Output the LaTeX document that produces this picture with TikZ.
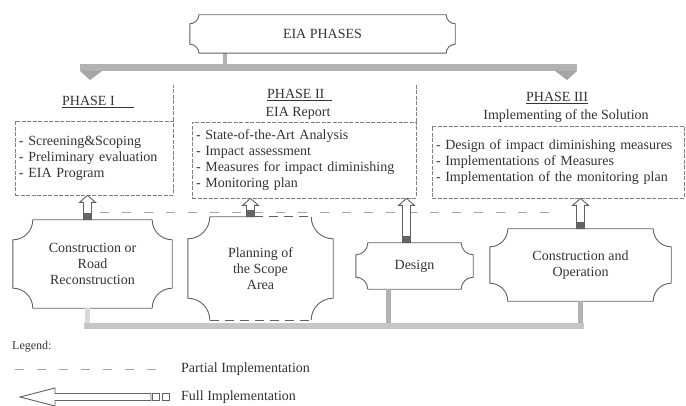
\documentclass[tikz,border=0pt]{standalone}
\usepackage{fontspec}
\setmainfont{Liberation Serif}
\usetikzlibrary{calc}

% outline with concave (cut-in) corners round a named node
\newcommand{\scallop}[2]{%
  \draw[ink] ($(#1.north west)+(#2,0)$) -- ($(#1.north east)+(-#2,0)$)
    arc[start angle=180, end angle=270, radius=#2]
    -- ($(#1.south east)+(0,#2)$)
    arc[start angle=90, end angle=180, radius=#2]
    -- ($(#1.south west)+(#2,0)$)
    arc[start angle=0, end angle=90, radius=#2]
    -- ($(#1.north west)+(0,-#2)$)
    arc[start angle=270, end angle=360, radius=#2] -- cycle;}

% hollow arrow of full implementation, from tail (#1) up to the level of (#2)
\newcommand{\fullup}[2]{%
  \draw[ink, fill=white] let \p1=(#1), \p2=(#2) in
    (\x1-4pt,\y1) -- (\x1-4pt,\y2-7pt) -- (\x1-8pt,\y2-7pt) -- (\x1,\y2)
    -- (\x1+8pt,\y2-7pt) -- (\x1+4pt,\y2-7pt) -- (\x1+4pt,\y1) -- cycle;
  \draw[ink, fill=black!60] let \p1=(#1) in
    (\x1-4pt,\y1) rectangle (\x1+4pt,\y1+3pt)
    (\x1-4pt,\y1+3pt) rectangle (\x1+4pt,\y1+6pt);}

\tikzset{
  ink/.style={draw=black!62, line width=0.9pt},
  band/.style={draw=black!30, line width=7pt},
  partial/.style={draw=black!35, line width=1pt, dash pattern=on 9pt off 13pt},
  phasebox/.style={draw=black!50, line width=0.8pt, dash pattern=on 4pt off 1.5pt,
    align=left, inner sep=3pt},
  stagebox/.style={align=center, inner sep=0pt},
  title/.style={inner sep=0pt}
}

\begin{document}
\begin{tikzpicture}[x=1pt, y=1pt, every node/.style={text=black!80, font=\fontsize{14}{16}\selectfont}]
  \useasboundingbox (0,0) rectangle (686,405);

  % top
  \node[minimum width=265pt, minimum height=38pt] (eia) at (322.5,371) {EIA PHASES};
  \coordinate (topL) at (80,337);
  \coordinate (topR) at (577,337);
  \coordinate (eiaout) at ($(eia.south west)+(35,0)$);
  \draw[band, line width=4pt] (eiaout) -- (eiaout |- topL);
  \draw[band] (topL) -- (topR);
  \fill[black!35] ($(topL)+(0,-3)$) -- ($(topL)+(22,-3)$) -- ($(topL)+(10,-12)$) -- cycle;
  \fill[black!35] ($(topR)+(-22,-3)$) -- ($(topR)+(0,-3)$) -- ($(topR)+(-10,-12)$) -- cycle;

  % phases
  \node[title, anchor=west] (t1) at (62,303) {\underline{PHASE I\hspace{19pt}}};
  \node[title, anchor=west] (t2) at (267,310) {\underline{PHASE II\hspace{8pt}}};
  \node[title] (t2b) at (298,292) {EIA Report};
  \node[title, anchor=west] (t3) at (526,307) {\underline{PHASE III}};
  \node[title] (t3b) at (566,289) {Implementing of the Solution};

  \node[phasebox, minimum width=158pt, minimum height=74pt, text width=150pt] (p1) at (94,247)
    {- Screening\&Scoping\\- Preliminary evaluation\\- EIA Program};
  \node[phasebox, minimum width=224pt, minimum height=76pt, text width=216pt] (p2) at (304,245)
    {- State-of-the-Art Analysis\\- Impact assessment\\- Measures for impact diminishing\\- Monitoring plan};
  \node[phasebox, minimum width=252pt, minimum height=72pt, text width=244pt] (p3) at (558,243)
    {- Design of impact diminishing measures\\- Implementations of Measures\\- Implementation of the monitoring plan};
  \coordinate (septop) at (0,320);
  \draw[draw=black!50, line width=0.8pt, dash pattern=on 4pt off 1.5pt] (p1.north east) -- (p1.north east |- septop);
  \draw[draw=black!50, line width=0.8pt, dash pattern=on 4pt off 1.5pt] (p2.north east) -- (p2.north east |- septop);

  % stages
  \node[stagebox, minimum width=159pt, minimum height=88pt] (b1) at (92.5,141) {Construction or\\Road\\Reconstruction};
  \node[stagebox, minimum width=145pt, minimum height=103pt] (b2) at (260.5,136.5) {Planning of\\the Scope\\Area};
  \node[stagebox, minimum width=117pt, minimum height=46pt] (b3) at (414.5,139) {Design};
  \node[stagebox, minimum width=181pt, minimum height=72pt] (b4) at (580.5,140) {Construction and\\Operation};
  \foreach \n/\r in {eia/9, b1/20, b3/12, b4/18}
    \scallop{\n}{\r};
  % planning box: partly dashed
  \draw[ink] ($(b2.north west)+(66,0)$) -- ($(b2.north west)+(22,0)$)
    arc[start angle=0, end angle=-90, radius=22] -- ($(b2.south west)+(0,22)$)
    arc[start angle=90, end angle=0, radius=22];
  \draw[ink] ($(b2.south east)+(-22,0)$)
    arc[start angle=180, end angle=90, radius=22] -- ($(b2.north east)+(0,-22)$)
    arc[start angle=270, end angle=180, radius=22];
  \draw[ink, dash pattern=on 9pt off 6pt] ($(b2.south west)+(22,0)$) -- ($(b2.south east)+(-22,0)$);
  \draw[ink, dash pattern=on 9pt off 6pt] ($(b2.north west)+(66,0)$) -- ($(b2.north east)+(-22,0)$);

  % partial implementation between stages
  \coordinate (pl) at (100,192);
  \coordinate (pr) at (560,192);
  \draw[partial] (pl) -- (pr);

  % full implementation, stages up to phases
  \foreach \s/\d/\t in {b1/-5/p1, b2/-10/p2, b3/-8/p2, b4/0/p3}
    \fullup{$(\s.north)+(\d,0)$}{\t.south};

  % bottom feedback band
  \coordinate (botL) at (84,79);
  \coordinate (botR) at (584,79);
  \coordinate (d1) at ($(b1.south)+(-5,0)$);
  \coordinate (d3) at ($(b3.south)+(-26,0)$);
  \draw[band, line width=5pt, draw=black!15] (d1) -- (d1 |- botL);
  \draw[band, line width=5pt] (d3) -- (d3 |- botL);
  \draw[band, line width=5pt] (b4.south) -- (b4.south |- botL);
  \draw[band, line width=6pt, draw=black!22] (botL) -- (botR);

  % legend
  \node[title, anchor=west, font=\fontsize{12}{14}\selectfont] (lg) at (12,58) {Legend:};
  \coordinate (lpa) at (15,36);
  \coordinate (lpb) at (166,36);
  \draw[partial] (lpa) -- (lpb);
  \node[title, anchor=west] (lpt) at (181,36) {Partial Implementation};
  \coordinate (ltip) at (20,8);
  \coordinate (ltail) at (151,8);
  \draw[ink, fill=white] (ltail) -- ++(0,3.5) -| ($(ltip)+(35,9)$) -- (ltip)
    -- ($(ltip)+(35,-9)$) |- ($(ltail)+(0,-3.5)$) -- cycle;
  \draw[ink] ($(ltail)+(1,-3.5)$) rectangle ++(7,7);
  \draw[ink] ($(ltail)+(11,-3.5)$) rectangle ++(7,7);
  \node[title, anchor=west] (lft) at (181,8) {Full Implementation};
\end{tikzpicture}
\end{document}
